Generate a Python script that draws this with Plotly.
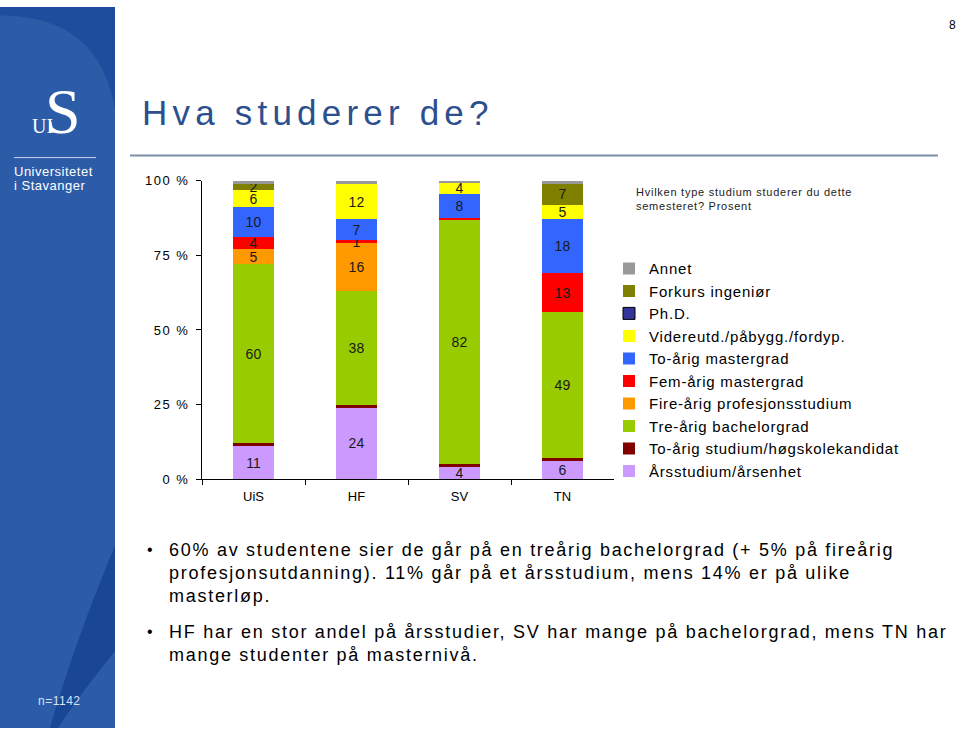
import plotly.graph_objects as go

categories = ["UiS", "HF", "SV", "TN"]

series_names = [
    "Årsstudium/årsenhet",
    "To-årig studium/høgskolekandidat",
    "Tre-årig bachelorgrad",
    "Fire-årig profesjonsstudium",
    "Fem-årig mastergrad",
    "To-årig mastergrad",
    "Videreutd./påbygg./fordyp.",
    "Ph.D.",
    "Forkurs ingeniør",
    "Annet",
]
arsstudium = [11, 24, 4, 6]
toarig_studium = [1, 1, 1, 1]
trearig_bachelor = [60, 38, 82, 49]
firearig_prof = [5, 16, 0, 0]
femarig_master = [4, 1, 0.5, 13]
toarig_master = [10, 7, 8, 18]
videreutd = [6, 12, 4, 5]
phd = [0, 0, 0, 0]
forkurs = [2, 0, 0, 7]
annet = [1, 1, 0.5, 1]
series_values = [arsstudium, toarig_studium, trearig_bachelor, firearig_prof,
                 femarig_master, toarig_master, videreutd, phd, forkurs, annet]
series_colors = ["#CC99FF", "#800000", "#99CC00", "#FF9900", "#FF0000",
                 "#3366FF", "#FFFF00", "#333399", "#808000", "#999999"]
labeled = [True, False, True, True, True, True, True, False, True, False]

y_tickvals = [0, 25, 50, 75, 100]
y_ticktext = ["0 %", "25 %", "50 %", "75 %", "100 %"]

FONT = "Liberation Sans"
W, H = 960, 736


def px(x):
    return x / W


def py(y):
    # y given in target-picture pixels, converted to paper coordinates
    yp = (y - 6.5) / 0.979
    return max(0.0, min(1.0, 1 - yp / H))


def sp(text, ls):
    return f'<span style="letter-spacing:{ls}px">{text}</span>'


fig = go.Figure()
for name, vals, col, lab in zip(series_names, series_values, series_colors, labeled):
    txt = [str(int(round(v))) if (lab and v >= 1) else "" for v in vals]
    fig.add_trace(go.Bar(
        x=categories, y=vals, name=sp(name, 0.8),
        marker=dict(color=col,
                    line=dict(color="black" if name == "Ph.D." else col,
                              width=1 if name == "Ph.D." else 0)),
        text=txt, textposition="inside", insidetextanchor="middle",
        textangle=0, textfont=dict(size=14, color="#1a1a1a", family=FONT),
        hoverinfo="skip",
    ))

shapes = [
    # sidebar
    dict(type="rect", xref="paper", yref="paper", x0=0, x1=px(115), y0=0, y1=1,
         fillcolor="#2c5ba8", line=dict(width=0), layer="below"),
    dict(type="path", xref="paper", yref="paper",
         path=f"M 0,1 L {px(115)},1 L {px(115)},{py(110)} Q {px(100)},{py(15)} 0,{py(15)} Z",
         fillcolor="#1f4d9d", line=dict(width=0), layer="below"),
    dict(type="path", xref="paper", yref="paper",
         path=(f"M {px(50)},{py(732)} Q {px(75)},{py(640)} {px(115)},{py(545)} "
               f"L {px(115)},{py(650)} Q {px(75)},{py(700)} {px(58)},{py(732)} Z"),
         fillcolor="#1a4696", line=dict(width=0), layer="below"),
    # logo line
    dict(type="line", xref="paper", yref="paper", x0=px(14), x1=px(96), y0=py(157), y1=py(157),
         line=dict(color="#c8d6ee", width=1)),
    # title rule
    dict(type="line", xref="paper", yref="paper", x0=px(130), x1=px(938), y0=py(155), y1=py(155),
         line=dict(color="#7d8ea8", width=2)),
]


def ann(x, y, text, size, color, family=FONT, xanchor="left", align="left"):
    return dict(x=px(x), y=py(y), xref="paper", yref="paper", text=text, showarrow=False,
                xanchor=xanchor, yanchor="middle", align=align,
                font=dict(family=family, size=size, color=color))


annotations = [
    ann(63, 111, "S", 64, "white", family="Liberation Serif", xanchor="center"),
    ann(42, 125, "UI", 20, "white", family="Liberation Serif", xanchor="center"),
    ann(12, 171, sp("Universitetet", 0.5), 13, "white"),
    ann(12, 185, sp("i Stavanger", 0.5), 13, "white"),
    ann(59, 700, sp("n=1142", 0.5), 12, "#d8e2f2", xanchor="center"),
    ann(958, 24, "8", 12, "black", xanchor="right"),
    ann(140, 112, sp("Hva studerer de?", 5.2), 35, "#2c4f8e"),
    ann(634, 198, sp("Hvilken type studium studerer du dette", 0.75) + "<br>" +
        sp("semesteret? Prosent", 0.75), 11, "#222222"),
]

bullets = [
    ["60% av studentene sier de går på en treårig bachelorgrad (+ 5% på fireårig",
     "profesjonsutdanning). 11% går på et årsstudium, mens 14% er på ulike",
     "masterløp."],
    ["HF har en stor andel på årsstudier, SV har mange på bachelorgrad, mens TN har",
     "mange studenter på masternivå."],
]
bullet_y = [549, 631]
for lines, y0 in zip(bullets, bullet_y):
    annotations.append(ann(145, y0, "•", 16, "black"))
    for i, line in enumerate(lines):
        annotations.append(ann(167, y0 + 23 * i, sp(line, 1.72), 18, "black"))

fig.update_layout(
    width=W, height=H,
    margin=dict(l=0, r=0, t=0, b=0),
    paper_bgcolor="white", plot_bgcolor="white",
    barmode="stack", bargap=0.6,
    font=dict(family=FONT, size=13, color="black"),
    uniformtext=dict(minsize=14, mode="show"),
    showlegend=True,
    legend=dict(x=px(609), y=py(251.5), xanchor="left", yanchor="top",
                traceorder="reversed", itemwidth=30,
                font=dict(family=FONT, size=15, color="black"),
                bgcolor="rgba(0,0,0,0)"),
    xaxis=dict(domain=[px(202), px(614)], type="category", tickson="boundaries",
               ticks="outside", ticklen=5, tickcolor="black", showline=True,
               linecolor="black", linewidth=1, showgrid=False, ticklabelstandoff=5,
               tickfont=dict(size=13, family=FONT, color="black")),
    yaxis=dict(domain=[py(478.5), py(180)], range=[0, 100], tickvals=y_tickvals,
               ticktext=[sp(t, 1.5) for t in y_ticktext], ticks="outside", ticklen=5,
               tickcolor="black", showline=True, linecolor="black", linewidth=1,
               showgrid=False, zeroline=False, ticklabelstandoff=4,
               tickfont=dict(size=13, family=FONT, color="black")),
    shapes=shapes,
    annotations=annotations,
)

post = (
    "document.documentElement.style.margin='0';"
    "document.documentElement.style.overflow='hidden';"
    "document.body.style.margin='0';document.body.style.padding='0';"
    "document.body.style.overflow='hidden';"
    "var gd=document.getElementById('{plot_id}');"
    "var w=gd.parentElement;w.style.position='fixed';w.style.left='0px';w.style.top='0px';"
    "w.style.margin='0';"
)

fig.write_html("out.html", config={"displayModeBar": False}, post_script=post)
